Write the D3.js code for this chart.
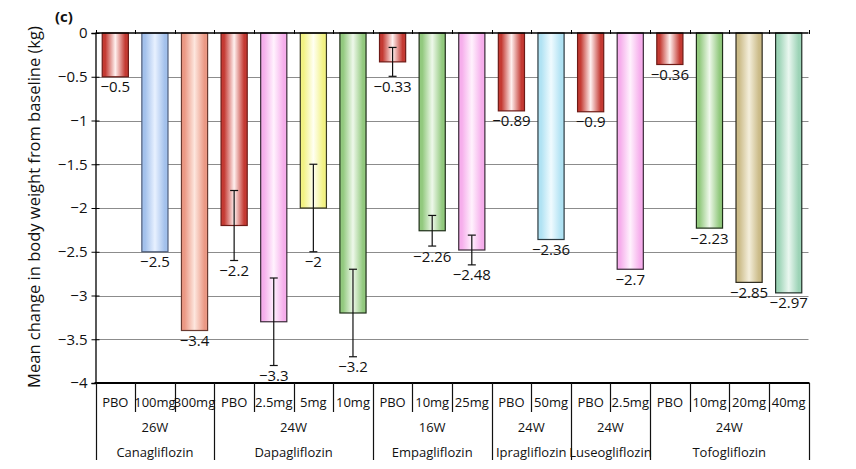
<!DOCTYPE html>
<html><head><meta charset="utf-8">
<script src="https://cdn.jsdelivr.net/npm/d3@7/dist/d3.min.js"></script>
<style>body{margin:0;background:#fff}svg{display:block;font-family:"Open Sans",sans-serif}</style>
</head><body><svg id="c" width="856" height="469"></svg>
<script>
const drugs = ["Canagliflozin","Canagliflozin","Canagliflozin","Dapagliflozin","Dapagliflozin","Dapagliflozin","Dapagliflozin","Empagliflozin","Empagliflozin","Empagliflozin","Ipragliflozin","Ipragliflozin","Luseogliflozin","Luseogliflozin","Tofogliflozin","Tofogliflozin","Tofogliflozin","Tofogliflozin"];
const weeks = ["26W","26W","26W","24W","24W","24W","24W","16W","16W","16W","24W","24W","24W","24W","24W","24W","24W","24W"];
const doses = ["PBO","100mg","300mg","PBO","2.5mg","5mg","10mg","PBO","10mg","25mg","PBO","50mg","PBO","2.5mg","PBO","10mg","20mg","40mg"];
const values = [-0.5,-2.5,-3.4,-2.2,-3.3,-2,-3.2,-0.33,-2.26,-2.48,-0.89,-2.36,-0.9,-2.7,-0.36,-2.23,-2.85,-2.97];
const errors = [0,0,0,0.4,0.5,0.5,0.5,0.165,0.175,0.17,0,0,0,0,0,0,0,0];
const colorKeys = ["red","blue","salmon","red","pink","yellow","green","red","green","pink","red","cyan","red","pink","red","green","tan","mint"];
const yTicks = [0,-0.5,-1,-1.5,-2,-2.5,-3,-3.5,-4];

const palette = {
  red:{edge:"#c43a33",mid:"#fff0ef",stroke:"#6e1a16"},
  blue:{edge:"#a3c1ec",mid:"#e8f1ff",stroke:"#4e5d7a"},
  salmon:{edge:"#eb9985",mid:"#fde6de",stroke:"#6a3a30"},
  pink:{edge:"#f6aeec",mid:"#fff2fd",stroke:"#3a2a38"},
  yellow:{edge:"#f2f283",mid:"#fffff2",stroke:"#3a3a20"},
  green:{edge:"#92c97e",mid:"#eef8ea",stroke:"#1e2e18"},
  cyan:{edge:"#b0e2f3",mid:"#f0fbff",stroke:"#2c3a40"},
  tan:{edge:"#cbbb88",mid:"#f4eedb",stroke:"#2e2a1e"},
  mint:{edge:"#9cd3b6",mid:"#eaf7f0",stroke:"#1e2e26"}
};

const svg = d3.select("#c");
const L = 95.5, R = 808.5, T = 33, B = 383;
const idx = d3.range(values.length);
const x = d3.scaleBand().domain(idx).range([L, R]).paddingInner(0.34).paddingOuter(0.17);
const y = d3.scaleLinear().domain([0, -4]).range([T, B]);

const defs = svg.append("defs");
Object.entries(palette).forEach(([k, c]) => {
  const g = defs.append("linearGradient").attr("id", "g-" + k).attr("x1", "0").attr("x2", "1").attr("y1", "0").attr("y2", "0");
  g.append("stop").attr("offset", "0").attr("stop-color", c.edge);
  g.append("stop").attr("offset", "0.12").attr("stop-color", c.edge);
  g.append("stop").attr("offset", "0.5").attr("stop-color", c.mid);
  g.append("stop").attr("offset", "0.88").attr("stop-color", c.edge);
  g.append("stop").attr("offset", "1").attr("stop-color", c.edge);
});

// grid
svg.append("g").selectAll("line").data(yTicks.filter(d => d !== 0 && d !== -4)).join("line")
  .attr("x1", L).attr("x2", R).attr("y1", d => Math.round(y(d)) + 0.5).attr("y2", d => Math.round(y(d)) + 0.5)
  .attr("stroke", "#8c8c8c").attr("stroke-width", 1);

// y axis
const yAxis = svg.append("g").attr("transform", `translate(${L},0)`)
  .call(d3.axisLeft(y).tickValues(yTicks).tickSize(4).tickFormat(d => d === 0 ? "0" : d3.format("")(d).replace("-", "\u2212")));
yAxis.select(".domain").attr("stroke", "#000").attr("stroke-width", 1.3);
yAxis.selectAll(".tick line").attr("x2", -4).attr("x1", 4).attr("stroke", "#000");
yAxis.selectAll(".tick text").attr("x", -8).attr("font-size", 15).attr("font-family", "Open Sans").attr("fill", "#111");

// bars
svg.append("g").selectAll("rect").data(idx).join("rect")
  .attr("x", i => x(i)).attr("width", x.bandwidth())
  .attr("y", y(0)).attr("height", i => y(values[i]) - y(0))
  .attr("fill", i => `url(#g-${colorKeys[i]})`)
  .attr("stroke", i => palette[colorKeys[i]].stroke).attr("stroke-width", 1.2);

// zero line with upward ticks at band boundaries
svg.append("line").attr("x1", L).attr("x2", R).attr("y1", y(0)).attr("y2", y(0)).attr("stroke", "#000").attr("stroke-width", 1.5);
const bounds = d3.range(values.length + 1).map(i => L + i * x.step());
svg.append("g").selectAll("line").data(bounds).join("line")
  .attr("x1", d => Math.round(d) + 0.5).attr("x2", d => Math.round(d) + 0.5).attr("y1", y(0) - 3).attr("y2", y(0) + 1)
  .attr("stroke", "#000").attr("stroke-width", 1);

// error bars
const eb = svg.append("g").attr("stroke", "#111").attr("stroke-width", 1.2);
idx.filter(i => errors[i] > 0).forEach(i => {
  const cx = x(i) + x.bandwidth() / 2;
  const y1 = y(values[i] + errors[i]), y2 = y(values[i] - errors[i]);
  eb.append("line").attr("x1", cx).attr("x2", cx).attr("y1", y1).attr("y2", y2);
  eb.append("line").attr("x1", cx - 4).attr("x2", cx + 4).attr("y1", y1).attr("y2", y1);
  eb.append("line").attr("x1", cx - 4).attr("x2", cx + 4).attr("y1", y2).attr("y2", y2);
});

// value labels
svg.append("g").selectAll("text").data(idx).join("text")
  .attr("x", i => x(i) + x.bandwidth() / 2)
  .attr("y", i => y(values[i] - errors[i]) + 15.5)
  .attr("text-anchor", "middle").attr("font-size", 15).attr("fill", "#111")
  .text(i => String(values[i]).replace("-", "\u2212"));

// bottom axis table
svg.append("line").attr("x1", L - 1).attr("x2", R + 1).attr("y1", B).attr("y2", B).attr("stroke", "#000").attr("stroke-width", 2);
const tbl = svg.append("g");
const groupStarts = idx.filter(i => i === 0 || drugs[i] !== drugs[i - 1]);
bounds.forEach((b, i) => {
  const full = i === 0 || i === values.length || groupStarts.includes(i);
  tbl.append("line").attr("x1", Math.round(b) + 0.5).attr("x2", Math.round(b) + 0.5)
    .attr("y1", B).attr("y2", full ? 460 : 412).attr("stroke", "#111").attr("stroke-width", 1.2);
});
tbl.selectAll("text.dose").data(idx).join("text").attr("class", "dose")
  .attr("x", i => x(i) + x.bandwidth() / 2).attr("y", 407)
  .attr("text-anchor", "middle").attr("font-size", 13).attr("fill", "#111").text(i => doses[i]);
groupStarts.forEach((s, gi) => {
  const e = gi + 1 < groupStarts.length ? groupStarts[gi + 1] : values.length;
  const cx = (bounds[s] + bounds[e]) / 2;
  tbl.append("text").attr("x", cx).attr("y", 432).attr("text-anchor", "middle").attr("font-size", 13).attr("fill", "#111").text(weeks[s]);
  tbl.append("text").attr("x", cx).attr("y", 457).attr("text-anchor", "middle").attr("font-size", 13).attr("fill", "#111").text(drugs[s]);
});

// titles
svg.append("text").attr("transform", "translate(40,207) rotate(-90)").attr("text-anchor", "middle")
  .attr("font-size", 16.5).attr("fill", "#111").text("Mean change in body weight from baseline (kg)");
svg.append("text").attr("x", 55).attr("y", 22).attr("font-size", 15).attr("font-weight", "bold").attr("fill", "#111").text("(c)");
</script></body></html>
